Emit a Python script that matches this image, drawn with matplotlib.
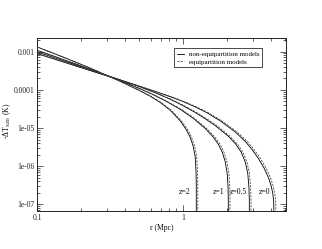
import matplotlib
matplotlib.use("Agg")
import matplotlib.pyplot as plt
from matplotlib.ticker import FixedLocator, FixedFormatter, NullFormatter

plt.rcParams['font.family'] = ['Liberation Serif', 'DejaVu Serif']
plt.rcParams['mathtext.fontset'] = 'stix'

# ---- data (r in Mpc, -dT in K) ----
redshifts = ["z=2", "z=1", "z=0.5", "z=0"]

# z = 2
r_solid_z2 = [0.1, 0.1228, 0.1683, 0.2306, 0.3162, 0.4006, 0.5076, 0.5942, 0.6959, 0.8145,
              0.9538, 1.0485, 1.1167, 1.1708, 1.2082, 1.2236, 1.2295, 1.2314]
t_z2 = [1.318e-3, 9.76e-4, 6.07e-4, 3.71e-4, 2.185e-4, 1.452e-4, 9.36e-5, 6.81e-5, 4.69e-5, 2.934e-5,
        1.542e-5, 9.19e-6, 5.75e-6, 3.37e-6, 1.781e-6, 7.96e-7, 3.23e-7, 1e-9]
r_dash_z2 = [0.1, 0.1228, 0.1683, 0.2306, 0.3162, 0.4019, 0.5108, 0.5998, 0.7048, 0.8274,
             0.9720, 1.0698, 1.1416, 1.1988, 1.2371, 1.2528, 1.2589, 1.2608]

# z = 1
r_solid_z1 = [0.1, 0.1228, 0.1683, 0.2306, 0.3162, 0.4006, 0.5076, 0.6133, 0.7526, 0.9538,
              1.1708, 1.4150, 1.6052, 1.7364, 1.8498, 1.9394, 2.0016, 2.0270, 2.0366, 2.0431]
t_z1 = [1.081e-3, 8.20e-4, 5.35e-4, 3.45e-4, 2.198e-4, 1.542e-4, 1.059e-4, 7.68e-5, 5.19e-5, 3.10e-5,
        1.803e-5, 9.76e-6, 5.82e-6, 3.82e-6, 2.36e-6, 1.326e-6, 6.45e-7, 3.04e-7, 1.311e-7, 1e-9]
r_dash_z1 = [0.1, 0.1228, 0.1683, 0.2306, 0.3162, 0.4019, 0.5108, 0.6191, 0.7622, 0.9690,
             1.1932, 1.4466, 1.6461, 1.7836, 1.9001, 1.9922, 2.0560, 2.0821, 2.0920, 2.0987]

# z = 0.5
r_solid_z05 = [0.1, 0.1228, 0.1683, 0.2306, 0.3162, 0.4006, 0.5076, 0.6428, 0.8145, 0.9844,
               1.2082, 1.4150, 1.6567, 2.0334, 2.3068, 2.4963, 2.6586, 2.7654, 2.8184, 2.8362, 2.8452]
t_z05 = [9.76e-4, 7.54e-4, 5.04e-4, 3.37e-4, 2.239e-4, 1.637e-4, 1.190e-4, 8.40e-5, 5.68e-5, 3.96e-5,
         2.563e-5, 1.754e-5, 1.159e-5, 6.16e-6, 3.67e-6, 2.32e-6, 1.303e-6, 6.65e-7, 2.86e-7, 1.234e-7, 1e-9]
r_dash_z05 = [0.1, 0.1228, 0.1683, 0.2306, 0.3162, 0.4019, 0.5108, 0.6489, 0.8248, 1.0001,
              1.2313, 1.4466, 1.6962, 2.0853, 2.3695, 2.5642, 2.7309, 2.8406, 2.8951, 2.9134, 2.9226]

# z = 0
r_solid_z0 = [0.1, 0.1228, 0.1683, 0.2306, 0.3162, 0.4006, 0.5076, 0.6428, 0.8145, 0.9844,
              1.2082, 1.4604, 1.7924, 2.2706, 2.6586, 2.9690, 3.2637, 3.5878, 3.8222, 4.0071,
              4.1029, 4.1681, 4.2077]
t_z0 = [8.87e-4, 6.91e-4, 4.70e-4, 3.20e-4, 2.177e-4, 1.631e-4, 1.223e-4, 9.08e-5, 6.62e-5, 5.04e-5,
        3.58e-5, 2.494e-5, 1.542e-5, 7.91e-6, 4.47e-6, 2.70e-6, 1.627e-6, 8.81e-7, 5.19e-7, 3.02e-7,
        1.972e-7, 1.148e-7, 1e-9]
r_dash_z0 = [0.1, 0.1228, 0.1683, 0.2306, 0.3162, 0.4019, 0.5108, 0.6489, 0.8248, 1.0001,
             1.2313, 1.4930, 1.8381, 2.3360, 2.7437, 3.0640, 3.3681, 3.7026, 3.9445, 4.1353,
             4.2342, 4.3015, 4.3423]

label_r = [1.03, 1.74, 2.40, 3.59]
label_t = [2.1e-7, 2.1e-7, 2.1e-7, 2.1e-7]

ytick_vals = [1e-7, 1e-6, 1e-5, 1e-4, 1e-3]
ytick_labels = ["1e-07", "1e-06", "1e-05", "0.0001", "0.001"]
xtick_vals = [0.1, 1]
xtick_labels = ["0.1", "1"]

fig = plt.figure(figsize=(3.22, 2.49), dpi=100)
ax = fig.add_axes([0.115, 0.153, 0.773, 0.694])

lw = 0.6
solids = [(r_solid_z2, t_z2), (r_solid_z1, t_z1), (r_solid_z05, t_z05), (r_solid_z0, t_z0)]
dashes = [(r_dash_z2, t_z2), (r_dash_z1, t_z1), (r_dash_z05, t_z05), (r_dash_z0, t_z0)]
for i, (r, t) in enumerate(solids):
    ax.plot(r, t, color='black', lw=lw, label="non-equipartition models" if i == 0 else None)
for i, (r, t) in enumerate(dashes):
    ax.plot(r, t, color='#444444', lw=lw, ls=(0, (2.5, 1.5)), label="equipartition models" if i == 0 else None)

ax.set_xscale('log')
ax.set_yscale('log')
ax.set_xlim(0.1, 5.05)
ax.set_ylim(6.8e-8, 2.25e-3)

ax.xaxis.set_major_locator(FixedLocator(xtick_vals))
ax.xaxis.set_major_formatter(FixedFormatter(xtick_labels))
ax.xaxis.set_minor_locator(FixedLocator([0.2, 0.3, 0.4, 0.5, 0.6, 0.7, 0.8, 0.9, 2, 3, 4, 5]))
ax.xaxis.set_minor_formatter(NullFormatter())
ax.yaxis.set_major_locator(FixedLocator(ytick_vals))
ax.yaxis.set_major_formatter(FixedFormatter(ytick_labels))
yminor = [m * 10.0 ** e for e in range(-8, -2) for m in range(2, 10)]
ax.yaxis.set_minor_locator(FixedLocator(yminor))
ax.yaxis.set_minor_formatter(NullFormatter())

ax.tick_params(which='both', direction='in', top=True, right=True, width=0.5, colors='#222222', labelsize=5.5, pad=2)
ax.tick_params(which='major', length=4)
ax.tick_params(which='minor', length=2)
for s in ax.spines.values():
    s.set_linewidth(0.7)
    s.set_color('#222222')

ax.set_xlabel("r (Mpc)", fontsize=5.5, labelpad=1.5)
ax.set_ylabel(r"-ΔT$_\mathregular{SZE}$ (K)", fontsize=5.5)
ax.yaxis.set_label_coords(-0.095, 0.52)

for txt, r, t in zip(redshifts, label_r, label_t):
    ax.text(r, t, txt, fontsize=5.5, ha='center', va='center')

leg = ax.legend(loc='upper left', bbox_to_anchor=(0.55, 0.94), fontsize=5,
                frameon=True, fancybox=False, edgecolor='black', framealpha=1,
                handlelength=1.0, handletextpad=0.7, borderpad=0.4, labelspacing=0.25,
                borderaxespad=0)
leg.get_frame().set_linewidth(0.5)

fig.savefig("out.png", dpi=100)
